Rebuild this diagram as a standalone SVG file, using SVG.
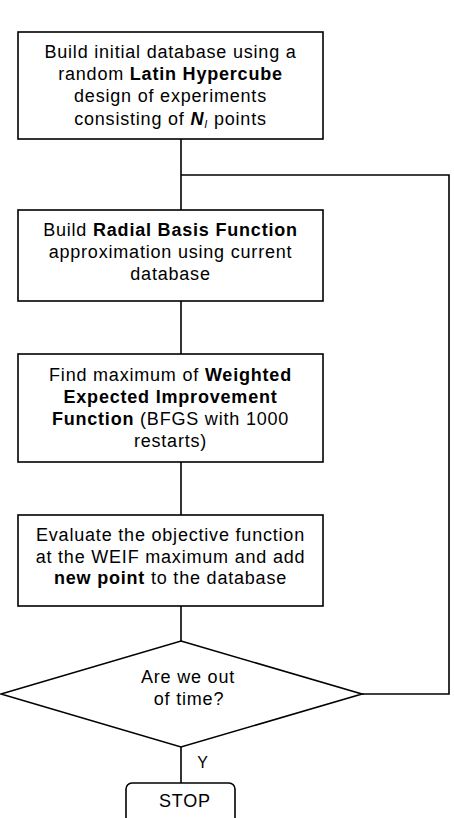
<svg xmlns="http://www.w3.org/2000/svg" width="454" height="818" viewBox="0 0 454 818">
<style>
.box{fill:#fff;stroke:#000;stroke-width:1.6}
.ln{fill:none;stroke:#000;stroke-width:1.6}
text{font-family:"Liberation Sans",Arial,sans-serif;font-size:18px;fill:#000;text-anchor:middle;letter-spacing:0.8px}
.b{font-weight:bold}
</style>
<rect width="454" height="818" fill="#fff"/>
<g id="connectors">
<path class="ln" d="M181,139 V210"/>
<path class="ln" d="M181,301 V354"/>
<path class="ln" d="M181,462 V515"/>
<path class="ln" d="M181,606 V641"/>
<path class="ln" d="M181,747 V783"/>
<path class="ln" d="M362,694 H449 V175 H181"/>
</g>
<g id="n1">
<rect class="box" x="18" y="32" width="305" height="107"/>
<text x="170.5" y="58">Build initial database using a</text>
<text x="170.5" y="80">random <tspan class="b">Latin Hypercube</tspan></text>
<text x="170.5" y="102">design of experiments</text>
<text x="170.5" y="124.5">consisting of <tspan class="b" font-style="italic">N</tspan><tspan font-style="italic" font-size="11" dy="3">I</tspan><tspan dy="-3"> points</tspan></text>
</g>
<g id="n2">
<rect class="box" x="18" y="210" width="305" height="91"/>
<text x="170.5" y="236">Build <tspan class="b">Radial Basis Function</tspan></text>
<text x="170.5" y="258">approximation using current</text>
<text x="170.5" y="280">database</text>
</g>
<g id="n3">
<rect class="box" x="18" y="354" width="305" height="108"/>
<text x="170.5" y="381">Find maximum of <tspan class="b">Weighted</tspan></text>
<text x="170.5" y="403" class="b">Expected Improvement</text>
<text x="170.5" y="425"><tspan class="b">Function</tspan> (BFGS with 1000</text>
<text x="170.5" y="447">restarts)</text>
</g>
<g id="n4">
<rect class="box" x="18" y="515" width="305" height="91"/>
<text x="170.5" y="541">Evaluate the objective function</text>
<text x="170.5" y="562.5">at the WEIF maximum and add</text>
<text x="170.5" y="584"><tspan class="b">new point</tspan> to the database</text>
</g>
<g id="n5">
<polygon class="box" points="181,641 362,694 181,747 1,694"/>
<text x="188" y="683">Are we out</text>
<text x="189" y="705">of time?</text>
</g>
<g id="n6">
<rect class="box" x="126" y="783" width="109" height="50" rx="6"/>
<text x="185" y="807">STOP</text>
</g>
<text x="203" y="768" style="font-size:16px">Y</text>
</svg>
